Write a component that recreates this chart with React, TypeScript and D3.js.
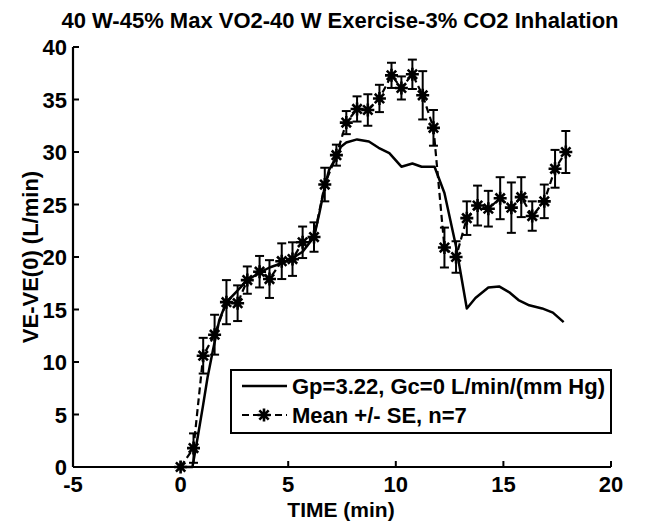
import React from "react";
import * as d3 from "d3";

const title = "40 W-45% Max VO2-40 W Exercise-3% CO2 Inhalation";
const xLabel = "TIME (min)";
const yLabel = "VE-VE(0) (L/min)";
const legendModel = "Gp=3.22, Gc=0 L/min/(mm Hg)";
const legendMean = "Mean +/- SE, n=7";

const xTicks = [-5, 0, 5, 10, 15, 20];
const yTicks = [0, 5, 10, 15, 20, 25, 30, 35, 40];

const meanTime = [0, 0.6, 1.05, 1.58, 2.13, 2.65, 3.1, 3.67, 4.13, 4.7, 5.2, 5.67, 6.2, 6.7, 7.24, 7.7, 8.2, 8.7, 9.24, 9.8, 10.26, 10.77, 11.25, 11.75, 12.26, 12.8, 13.3, 13.8, 14.3, 14.85, 15.37, 15.83, 16.34, 16.9, 17.4, 17.9];
const meanValue = [0, 1.8, 10.6, 12.6, 15.7, 15.6, 17.8, 18.6, 17.9, 19.6, 19.8, 21.4, 21.9, 26.9, 29.7, 32.8, 34.1, 34.0, 35.1, 37.3, 36.1, 37.4, 35.4, 32.3, 20.9, 20.0, 23.7, 24.9, 24.6, 25.6, 24.7, 25.7, 23.9, 25.3, 28.4, 30.0];
const meanSE = [0, 1.4, 1.7, 1.9, 2.1, 1.7, 1.3, 1.5, 1.8, 1.7, 1.6, 1.5, 1.4, 1.6, 1.0, 1.1, 1.2, 1.5, 1.3, 1.2, 1.1, 1.4, 2.3, 1.7, 1.9, 1.5, 1.6, 1.9, 1.7, 2.0, 2.4, 1.9, 1.4, 1.6, 1.8, 2.0];

const modelTime = [0, 0.55, 0.8, 1.03, 1.25, 1.5, 1.8, 2.13, 2.6, 3.1, 3.67, 4.13, 4.7, 5.2, 5.67, 6.2, 6.45, 6.7, 6.9, 7.24, 7.45, 7.7, 8.2, 8.75, 9.2, 9.7, 10.26, 10.77, 11.2, 11.8, 12.26, 12.8, 13.3, 13.7, 14.3, 14.8, 15.3, 15.7, 16.2, 16.8, 17.3, 17.8];
const modelValue = [0, 0, 2.9, 5.7, 8.5, 11.1, 14, 15.7, 16.7, 17.8, 18.5, 19, 19.4, 19.9, 20.5, 21.9, 24.2, 26.7, 28.3, 29.5, 30.5, 30.9, 31.2, 31.0, 30.4, 29.9, 28.6, 28.9, 28.6, 28.6, 26.1, 21.0, 15.1, 16.1, 17.1, 17.2, 16.6, 15.9, 15.4, 15.1, 14.7, 13.8];

const W = 646;
const H = 522;
const m = { left: 73, right: 611, top: 47, bottom: 467 };
const font = "'Liberation Sans', Arial, sans-serif";
const fs = 22;

function starPath(cx: number, cy: number, r: number) {
  const d = r * 0.72;
  return `M${cx - r},${cy}L${cx + r},${cy}M${cx},${cy - r}L${cx},${cy + r}M${cx - d},${cy - d}L${cx + d},${cy + d}M${cx - d},${cy + d}L${cx + d},${cy - d}`;
}

export default function App() {
  const x = d3.scaleLinear().domain([-5, 20]).range([m.left, m.right]);
  const y = d3.scaleLinear().domain([0, 40]).range([m.bottom, m.top]);

  const model = modelTime.map((t, i) => [t, modelValue[i]] as [number, number]);
  const means = meanTime.map((t, i) => ({ t, v: meanValue[i], se: meanSE[i] }));

  const line = d3.line<[number, number]>().x((d) => x(d[0])).y((d) => y(d[1]));
  const meanLine = d3.line<{ t: number; v: number }>().x((d) => x(d.t)).y((d) => y(d.v));

  const cap = 4.5;
  const legendX = 231;
  const legendY = 370;
  const legendW = 380;
  const legendH = 63;

  return (
    <svg width={W} height={H} style={{ position: "absolute", left: 0, top: 0, background: "#fff" }} xmlns="http://www.w3.org/2000/svg">
      <rect x={0} y={0} width={W} height={H} fill="#fff" />
      <text x={340} y={28} textAnchor="middle" fontFamily={font} fontWeight="bold" fontSize={fs} fill="#000">
        {title}
      </text>

      {/* axes */}
      <line x1={m.left} x2={m.right} y1={m.bottom} y2={m.bottom} stroke="#000" strokeWidth={2.2} />
      <line x1={m.left} x2={m.left} y1={m.top} y2={m.bottom} stroke="#000" strokeWidth={2.2} />
      {xTicks.map((t) => (
        <g key={"xt" + t}>
          <line x1={x(t)} x2={x(t)} y1={m.bottom} y2={m.bottom - 6} stroke="#000" strokeWidth={2} />
          <text x={x(t)} y={m.bottom + 25} textAnchor="middle" fontFamily={font} fontWeight="bold" fontSize={fs} fill="#000">
            {t}
          </text>
        </g>
      ))}
      {yTicks.map((t) => (
        <g key={"yt" + t}>
          <line x1={m.left} x2={m.left + 6} y1={y(t)} y2={y(t)} stroke="#000" strokeWidth={2} />
          <text x={m.left - 6} y={y(t) + 8} textAnchor="end" fontFamily={font} fontWeight="bold" fontSize={fs} fill="#000">
            {t}
          </text>
        </g>
      ))}
      <text x={341} y={517} textAnchor="middle" fontFamily={font} fontWeight="bold" fontSize={21} fill="#000">
        {xLabel}
      </text>
      <text transform={`translate(38,${(m.top + m.bottom) / 2}) rotate(-90)`} textAnchor="middle" fontFamily={font} fontWeight="bold" fontSize={fs} fill="#000">
        {yLabel}
      </text>

      {/* error bars */}
      {means.map((d, i) =>
        d.se > 0 ? (
          <g key={"eb" + i} stroke="#000" strokeWidth={2}>
            <line x1={x(d.t)} x2={x(d.t)} y1={y(d.v - d.se)} y2={y(d.v + d.se)} />
            <line x1={x(d.t) - cap} x2={x(d.t) + cap} y1={y(d.v - d.se)} y2={y(d.v - d.se)} />
            <line x1={x(d.t) - cap} x2={x(d.t) + cap} y1={y(d.v + d.se)} y2={y(d.v + d.se)} />
          </g>
        ) : null
      )}
      <path d={meanLine(means) || ""} fill="none" stroke="#000" strokeWidth={2.2} strokeDasharray="7,4" />
      <path d={line(model) || ""} fill="none" stroke="#000" strokeWidth={2.5} strokeLinejoin="round" />
      {means.map((d, i) => (
        <path key={"st" + i} d={starPath(x(d.t), y(d.v), 6.5)} stroke="#000" strokeWidth={2.6} fill="none" />
      ))}

      {/* legend */}
      <rect x={legendX} y={legendY} width={legendW} height={legendH} fill="#fff" stroke="#000" strokeWidth={2} />
      <line x1={legendX + 11} x2={legendX + 56} y1={386} y2={386} stroke="#000" strokeWidth={2.5} />
      <text x={292} y={394} fontFamily={font} fontWeight="bold" fontSize={fs} fill="#000">
        {legendModel}
      </text>
      <line x1={legendX + 11} x2={legendX + 56} y1={415} y2={415} stroke="#000" strokeWidth={2.2} strokeDasharray="7,4" />
      <path d={starPath(legendX + 33, 415, 6.5)} stroke="#000" strokeWidth={2.6} fill="none" />
      <text x={292} y={423} fontFamily={font} fontWeight="bold" fontSize={fs} fill="#000">
        {legendMean}
      </text>
    </svg>
  );
}
